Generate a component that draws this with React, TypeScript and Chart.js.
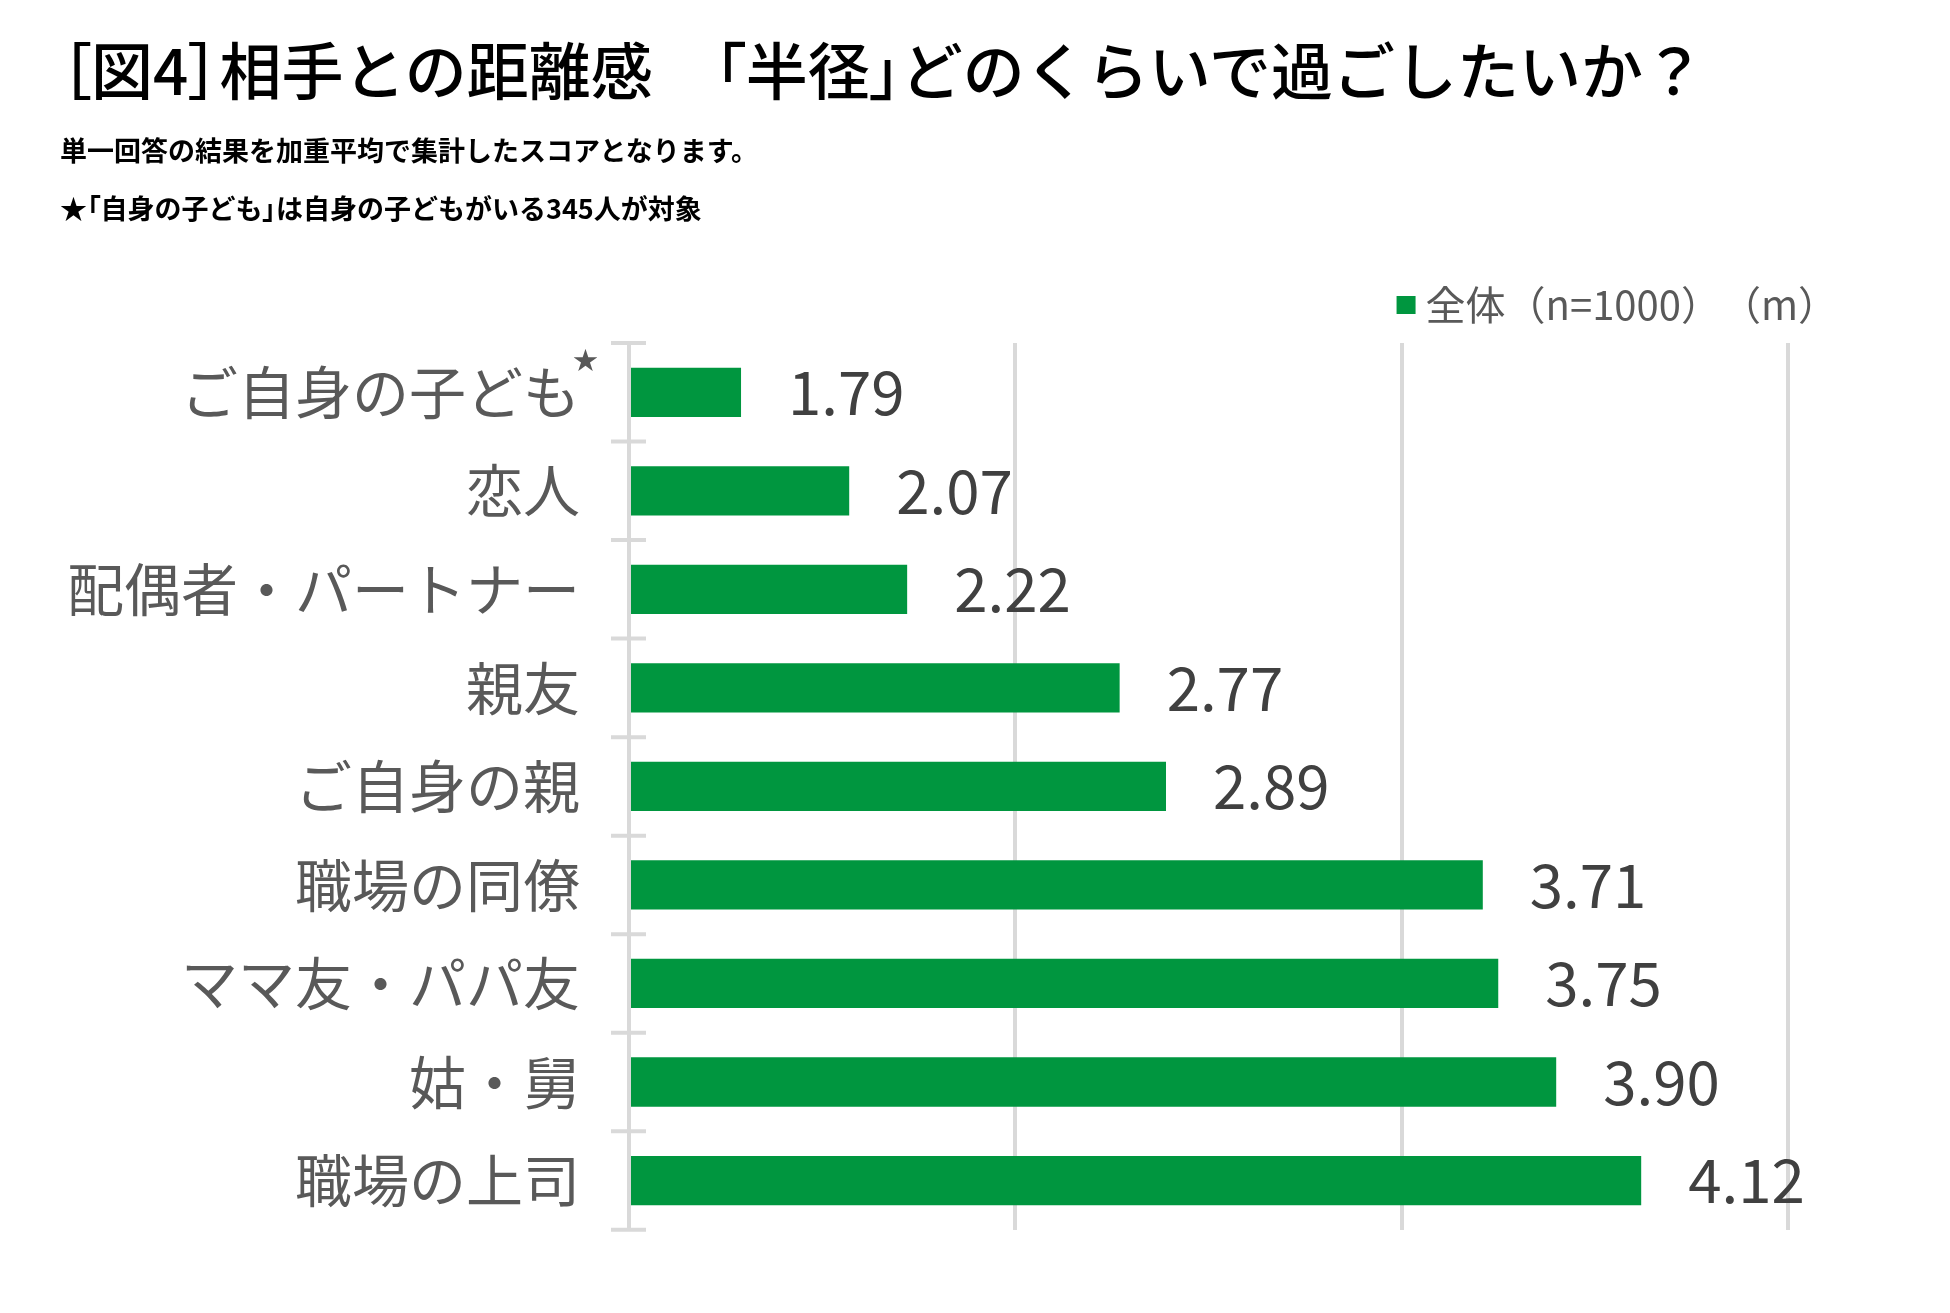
import React, { useEffect, useRef } from "react";
import { Chart, registerables } from "chart.js";

Chart.register(...registerables);

// data
const categories = [
  "ご自身の子ども",
  "恋人",
  "配偶者・パートナー",
  "親友",
  "ご自身の親",
  "職場の同僚",
  "ママ友・パパ友",
  "姑・舅",
  "職場の上司",
];
const values = [1.79, 2.07, 2.22, 2.77, 2.89, 3.71, 3.75, 3.9, 4.12];
const seriesLabel = "全体（n=1000）";
const unitLabel = "（m）";
const gridTicks = [1.5, 2.5, 3.5, 4.5];
const starred = ["ご自身の子ども"];

const titleText = "［図4］相手との距離感　「半径」どのくらいで過ごしたいか？";
const noteLines = [
  "単一回答の結果を加重平均で集計したスコアとなります。",
  "★「自身の子ども」は自身の子どもがいる345人が対象",
];

const GREEN = "#00963f";
const GRID = "#d9d9d9";
const FONT = "'Noto Sans CJK JP', 'Noto Sans', sans-serif";

// brackets are set half-width (proportional) like in the original
const tightBrackets = (text: string) =>
  text.split(/([［］「」])/).map((part, i) =>
    /^[［］「」]$/.test(part) ? (
      <span key={i} style={{ fontFeatureSettings: '"palt"' }}>
        {part}
      </span>
    ) : (
      <React.Fragment key={i}>{part}</React.Fragment>
    )
  );

// short tick marks across the axis line at each category boundary
const categoryTicks = {
  id: "categoryTicks",
  afterDraw(chart: any) {
    const yScale = chart.scales.y;
    const ctx = chart.ctx;
    const x0 = chart.chartArea.left;
    ctx.save();
    ctx.strokeStyle = GRID;
    ctx.lineWidth = 4;
    for (let i = 0; i <= categories.length; i++) {
      const py = yScale.getPixelForValue(i - 0.5);
      ctx.beginPath();
      ctx.moveTo(x0 - 18, py);
      ctx.lineTo(x0 + 17, py);
      ctx.stroke();
    }
    // star after the marked labels
    ctx.fillStyle = "#595959";
    ctx.font = `25px ${FONT}`;
    ctx.textAlign = "left";
    ctx.textBaseline = "middle";
    categories.forEach((c, i) => {
      if (!starred.includes(c)) return;
      const py = yScale.getPixelForTick(i);
      ctx.fillText("★", x0 - 49 - 7, py - 33);
    });
    ctx.restore();
  },
};

const valueLabels = {
  id: "valueLabels",
  afterDatasetsDraw(chart: any) {
    const ctx = chart.ctx;
    const meta = chart.getDatasetMeta(0);
    ctx.save();
    ctx.fillStyle = "#404040";
    ctx.font = `60px ${FONT}`;
    ctx.textAlign = "left";
    ctx.textBaseline = "middle";
    meta.data.forEach((bar: any, i: number) => {
      ctx.fillText(values[i].toFixed(2), bar.x + 47, bar.y);
    });
    ctx.restore();
  },
};

const legendRow = {
  id: "legendRow",
  afterDraw(chart: any) {
    const { ctx, chartArea } = chart;
    const ds = chart.data.datasets[0];
    ctx.save();
    ctx.font = `40px ${FONT}`;
    ctx.fillStyle = "#595959";
    ctx.textAlign = "left";
    ctx.textBaseline = "middle";
    const y = chartArea.top - 38;
    const unitRight = chartArea.right + 50;
    const unitW = ctx.measureText(unitLabel).width;
    ctx.fillText(unitLabel, unitRight - unitW, y);
    const labelW = ctx.measureText(ds.label).width;
    const labelX = unitRight - unitW - labelW;
    ctx.fillText(ds.label, labelX, y);
    ctx.fillStyle = ds.backgroundColor;
    ctx.fillRect(labelX - 29, y - 9, 19, 18);
    ctx.restore();
  },
};

const App: React.FC = () => {
  const chartRef = useRef<HTMLCanvasElement | null>(null);
  const chartInstance = useRef<Chart | null>(null);

  useEffect(() => {
    const oldMargin = document.body.style.margin;
    document.body.style.margin = "0";

    if (chartRef.current) {
      const ctx = chartRef.current.getContext("2d");
      if (ctx) {
        if (chartInstance.current) {
          chartInstance.current.destroy();
        }
        chartInstance.current = new Chart(ctx, {
          type: "bar",
          data: {
            labels: categories,
            datasets: [
              {
                label: seriesLabel,
                data: values,
                backgroundColor: GREEN,
                borderWidth: 0,
                barPercentage: 0.5,
                categoryPercentage: 1,
                base: gridTicks[0],
              },
            ],
          },
          options: {
            indexAxis: "y",
            responsive: false,
            animation: false,
            devicePixelRatio: 1,
            layout: {
              autoPadding: false,
              padding: { top: 343, right: 162, bottom: 72, left: 0 },
            },
            plugins: {
              legend: { display: false },
              tooltip: { enabled: false },
            },
            scales: {
              x: {
                type: "linear",
                min: gridTicks[0],
                max: gridTicks[gridTicks.length - 1],
                afterBuildTicks: (s: any) => {
                  s.ticks = gridTicks.map((v) => ({ value: v }));
                },
                afterFit: (s: any) => {
                  s.height = 0;
                },
                ticks: { display: false },
                grid: { color: GRID, lineWidth: 4, drawTicks: false },
                border: { display: false },
              },
              y: {
                type: "category",
                afterFit: (s: any) => {
                  s.width = 629;
                },
                ticks: {
                  color: "#595959",
                  font: { family: FONT, size: 57 },
                  padding: 49,
                },
                grid: { display: false, drawTicks: false },
                border: { display: true, color: GRID, width: 4, z: 1 },
              },
            },
          },
          plugins: [categoryTicks, valueLabels, legendRow],
        });
      }
    }

    return () => {
      if (chartInstance.current) {
        chartInstance.current.destroy();
        chartInstance.current = null;
      }
      document.body.style.margin = oldMargin;
    };
  }, []);

  return (
    <div
      style={{
        position: "relative",
        width: 1950,
        height: 1313,
        background: "#fff",
        fontFamily: FONT,
        overflow: "hidden",
      }}
    >
      <canvas
        ref={chartRef}
        width={1950}
        height={1313}
        style={{ position: "absolute", left: 0, top: 0, width: 1950, height: 1313 }}
      ></canvas>
      <div
        style={{
          position: "absolute",
          left: 60,
          top: 37,
          fontSize: 62,
          fontWeight: 500,
          lineHeight: "62px",
          color: "#000",
          whiteSpace: "nowrap",
        }}
      >
        {tightBrackets(titleText)}
      </div>
      {noteLines.map((t, i) => (
        <div
          key={i}
          style={{
            position: "absolute",
            left: 60,
            top: 136 + i * 58,
            fontSize: 27,
            fontWeight: 700,
            lineHeight: "27px",
            color: "#000",
            whiteSpace: "nowrap",
          }}
        >
          {tightBrackets(t)}
        </div>
      ))}
    </div>
  );
};

export default App;
